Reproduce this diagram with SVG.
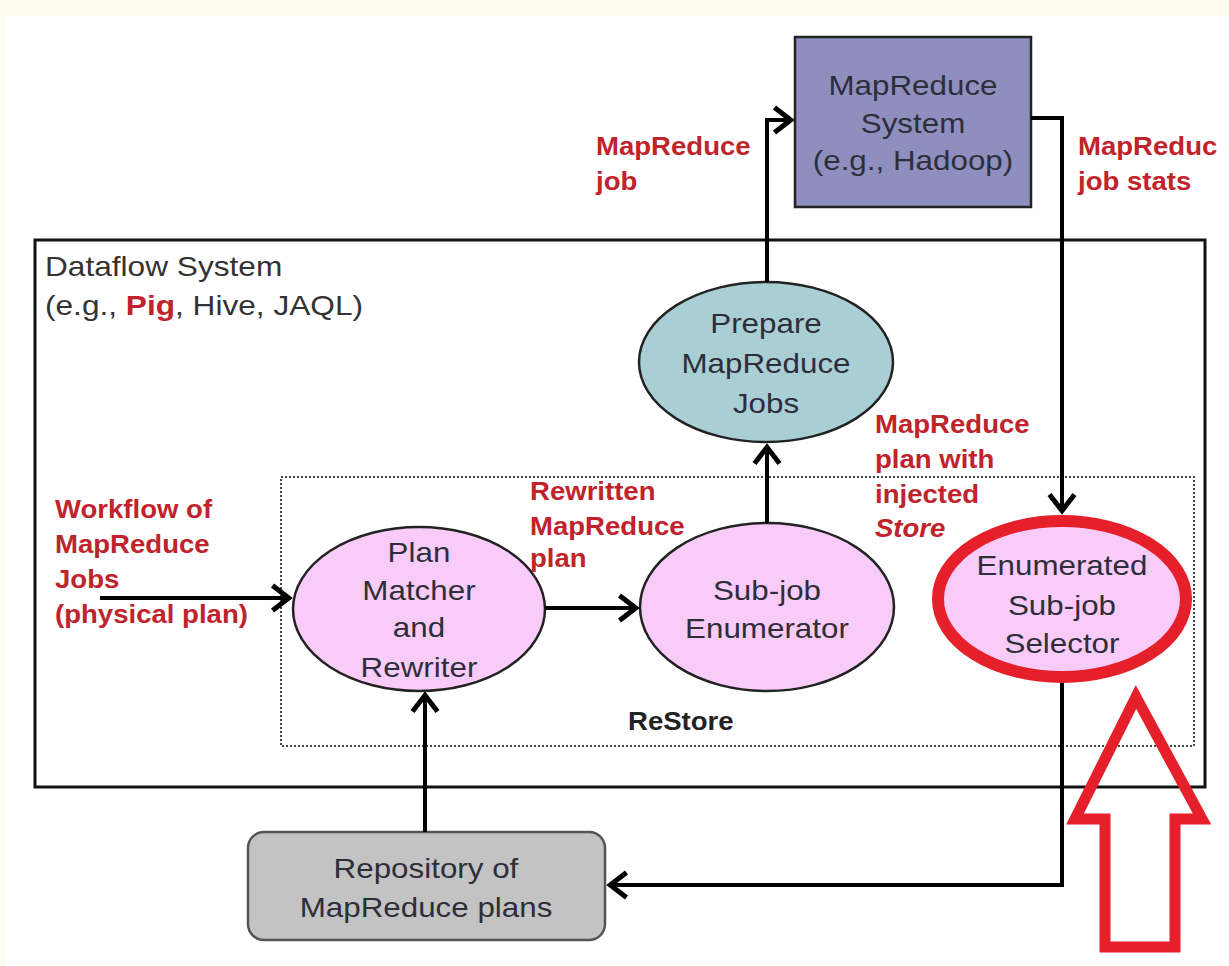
<svg xmlns="http://www.w3.org/2000/svg" width="1229" height="966" viewBox="0 0 1229 966">
<style>
.n{font-family:"Liberation Sans",Arial,sans-serif;font-size:28px;fill:#2e2e3a;text-anchor:middle;transform-box:fill-box;transform-origin:center;transform:scaleX(1.12)}
.r{font-family:"Liberation Sans",Arial,sans-serif;font-size:26px;font-weight:bold;fill:#c0232b;transform-box:fill-box;transform-origin:left;transform:scaleX(1.06)}
.t{font-family:"Liberation Sans",Arial,sans-serif;font-size:28px;fill:#333;transform-box:fill-box;transform-origin:left;transform:scaleX(1.13)}
.c{fill:none;stroke:#000;stroke-width:4}
.pink{fill:#f9cbf8;stroke:#222;stroke-width:2.5}
</style>
<defs>
<marker id="ah" markerUnits="userSpaceOnUse" markerWidth="30" markerHeight="30" refX="1" refY="0" viewBox="-16 -12 20 24" orient="auto" overflow="visible">
<path d="M-13,-10 L0,0 L-13,10" fill="none" stroke="#000" stroke-width="4"/>
</marker>
</defs>
<rect x="0" y="0" width="1229" height="966" fill="#fdfdef"/>
<rect x="6" y="16" width="1223" height="950" fill="#ffffff"/>

<g id="dataflow">
<rect x="35" y="240" width="1170" height="547" fill="none" stroke="#111" stroke-width="3"/>
<text class="t" x="45" y="276">Dataflow System</text>
<text class="t" x="45" y="315">(e.g., <tspan fill="#c0232b" font-weight="bold">Pig</tspan>, Hive, JAQL)</text>
</g>

<g id="restore">
<rect x="281" y="477" width="913" height="269" fill="none" stroke="#444" stroke-width="2" stroke-dasharray="2,2"/>
<text class="r" x="628" y="730" style="fill:#222">ReStore</text>
</g>

<g id="mapreduce-system">
<rect x="795" y="37" width="236" height="170" fill="#8e8ebf" stroke="#222" stroke-width="2.5"/>
<text class="n" x="913" y="95">MapReduce</text>
<text class="n" x="913" y="133">System</text>
<text class="n" x="913" y="170">(e.g., Hadoop)</text>
</g>

<g id="prepare">
<ellipse cx="766" cy="362" rx="127" ry="80" fill="#a9cfd4" stroke="#222" stroke-width="2.5"/>
<text class="n" x="766" y="333">Prepare</text>
<text class="n" x="766" y="373">MapReduce</text>
<text class="n" x="766" y="413">Jobs</text>
</g>

<g id="plan-matcher">
<ellipse class="pink" cx="419" cy="609" rx="126" ry="82"/>
<text class="n" x="419" y="562">Plan</text>
<text class="n" x="419" y="600">Matcher</text>
<text class="n" x="419" y="637">and</text>
<text class="n" x="419" y="677">Rewriter</text>
</g>

<g id="subjob-enumerator">
<ellipse class="pink" cx="767" cy="607" rx="127" ry="84"/>
<text class="n" x="767" y="600">Sub-job</text>
<text class="n" x="767" y="638">Enumerator</text>
</g>

<g id="selector">
<ellipse cx="1062" cy="599" rx="124" ry="78" fill="#f9cbf8" stroke="#e5202a" stroke-width="12"/>
<text class="n" x="1062" y="575">Enumerated</text>
<text class="n" x="1062" y="615">Sub-job</text>
<text class="n" x="1062" y="653">Selector</text>
</g>

<g id="repository">
<rect x="248" y="832" width="357" height="108" rx="16" fill="#c3c3c3" stroke="#555" stroke-width="2.5"/>
<text class="n" x="426" y="878">Repository of</text>
<text class="n" x="426" y="917">MapReduce plans</text>
</g>

<g id="connectors">
<path class="c" d="M100,598 L290,598" marker-end="url(#ah)"/>
<path class="c" d="M545,608 L637,608" marker-end="url(#ah)"/>
<path class="c" d="M767,523 L767,446" marker-end="url(#ah)"/>
<path class="c" d="M767,282 L767,120 L792,120" marker-end="url(#ah)"/>
<path class="c" d="M1031,118 L1062,118 L1062,512" marker-end="url(#ah)"/>
<path class="c" d="M1062,683 L1062,885 L609,885" stroke-width="3.5" marker-end="url(#ah)"/>
<path class="c" d="M425,832 L425,694" marker-end="url(#ah)"/>
</g>

<g id="labels">
<text class="r" x="596" y="155">MapReduce</text>
<text class="r" x="596" y="190">job</text>
<text class="r" x="1078" y="155">MapReduc</text>
<text class="r" x="1078" y="190">job stats</text>
<text class="r" x="55" y="518">Workflow of</text>
<text class="r" x="55" y="553">MapReduce</text>
<text class="r" x="55" y="588">Jobs</text>
<text class="r" x="55" y="623">(physical plan)</text>
<text class="r" x="530" y="500">Rewritten</text>
<text class="r" x="530" y="535">MapReduce</text>
<text class="r" x="530" y="567">plan</text>
<text class="r" x="875" y="433">MapReduce</text>
<text class="r" x="875" y="468">plan with</text>
<text class="r" x="875" y="503">injected</text>
<text class="r" x="875" y="537" font-style="italic">Store</text>
</g>

<g id="highlight-arrow">
<polygon points="1136,697 1202,819 1175,819 1175,947 1105,947 1105,819 1075,819" fill="none" stroke="#e5202a" stroke-width="11" stroke-linejoin="miter"/>
</g>
</svg>
